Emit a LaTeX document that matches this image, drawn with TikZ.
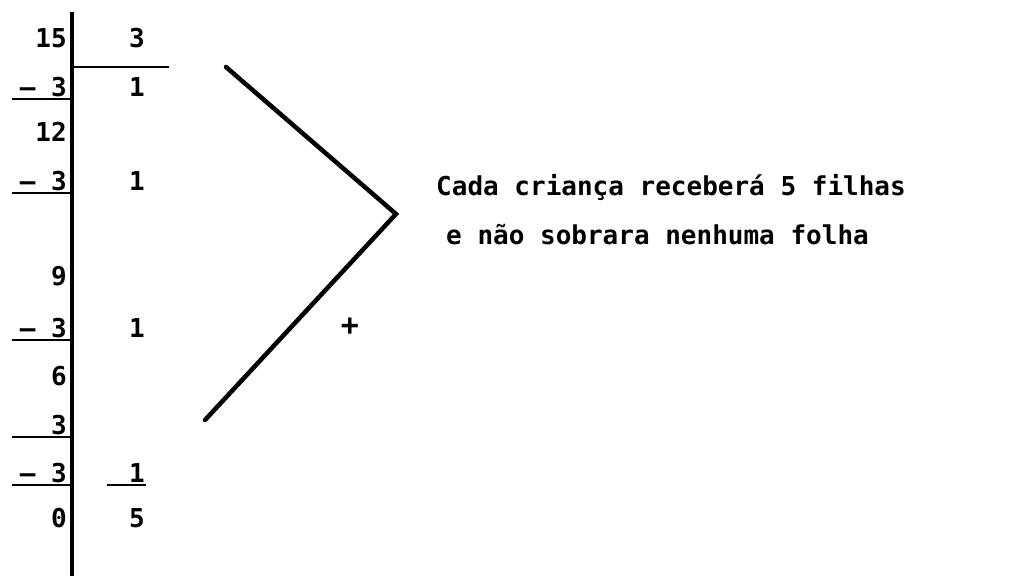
\documentclass[tikz,border=0pt]{standalone}
\usepackage{fontspec}
\setmonofont{DejaVu Sans Mono}
\usetikzlibrary{positioning}
\tikzset{
  num/.style={font=\ttfamily\bfseries\fontsize{26}{28}\selectfont,inner sep=0pt},
  num-left/.style={num,anchor=east},
  num-right/.style={num,anchor=center},
  bar/.style={line width=4pt},
  rule/.style={line width=2.5pt},
  stroke/.style={line width=4.5pt,line cap=round},
}
\begin{document}
\begin{tikzpicture}[x=1pt,y=-1pt]
  \useasboundingbox (0,0) rectangle (1022,576);
  % division bar
  \coordinate (bar-top) at (72,12);
  \coordinate (bar-bot) at (72,576);
  \draw[bar] (bar-top) -- (bar-bot);
  \coordinate (quo-l) at (74,67);
  \coordinate (quo-r) at (169,67);
  \draw[rule] (quo-l) -- (quo-r);
  % dividend column
  \node[num-left] (d15) at (67,38)  {15};
  \node[num-left] (s1)  at (67,87)  {\textendash{} 3};
  \node[num-left] (d12) at (67,132) {12};
  \node[num-left] (s2)  at (67,181) {\textendash{} 3};
  \node[num-left] (d9)  at (67,276) {9};
  \node[num-left] (s3)  at (67,328) {\textendash{} 3};
  \node[num-left] (d6)  at (67,376) {6};
  \node[num-left] (d3)  at (67,425) {3};
  \node[num-left] (s4)  at (67,473) {\textendash{} 3};
  \node[num-left] (d0)  at (67,518) {0};
  \foreach \y in {99,193,340,437,485}
    \draw[rule] (12,\y) -- (72,\y);
  % quotient column
  \node[num-right] (q3) at (137,38)  {3};
  \node[num-right] (q1) at (137,87)  {1};
  \node[num-right] (q2) at (137,181) {1};
  \node[num-right] (q4) at (137,328) {1};
  \node[num-right] (q5) at (137,473) {1};
  \node[num-right] (q6) at (137,518) {5};
  \draw[rule] (107,485) -- (146,485);
  % chevron
  \coordinate (ch-a) at (226,67);
  \coordinate (ch-b) at (396,214);
  \coordinate (ch-c) at (205,420);
  \draw[stroke] (ch-a) -- (ch-b) -- (ch-c);
  \node[num,font=\ttfamily\bfseries\fontsize{30}{32}\selectfont] (plus) at (350,327) {+};
  % answer
  \node[num,anchor=west] (ans1) at (436,187) {Cada criança receberá 5 filhas};
  \node[num,anchor=west] (ans2) at (446,235) {e não sobrara nenhuma folha};
\end{tikzpicture}
\end{document}
